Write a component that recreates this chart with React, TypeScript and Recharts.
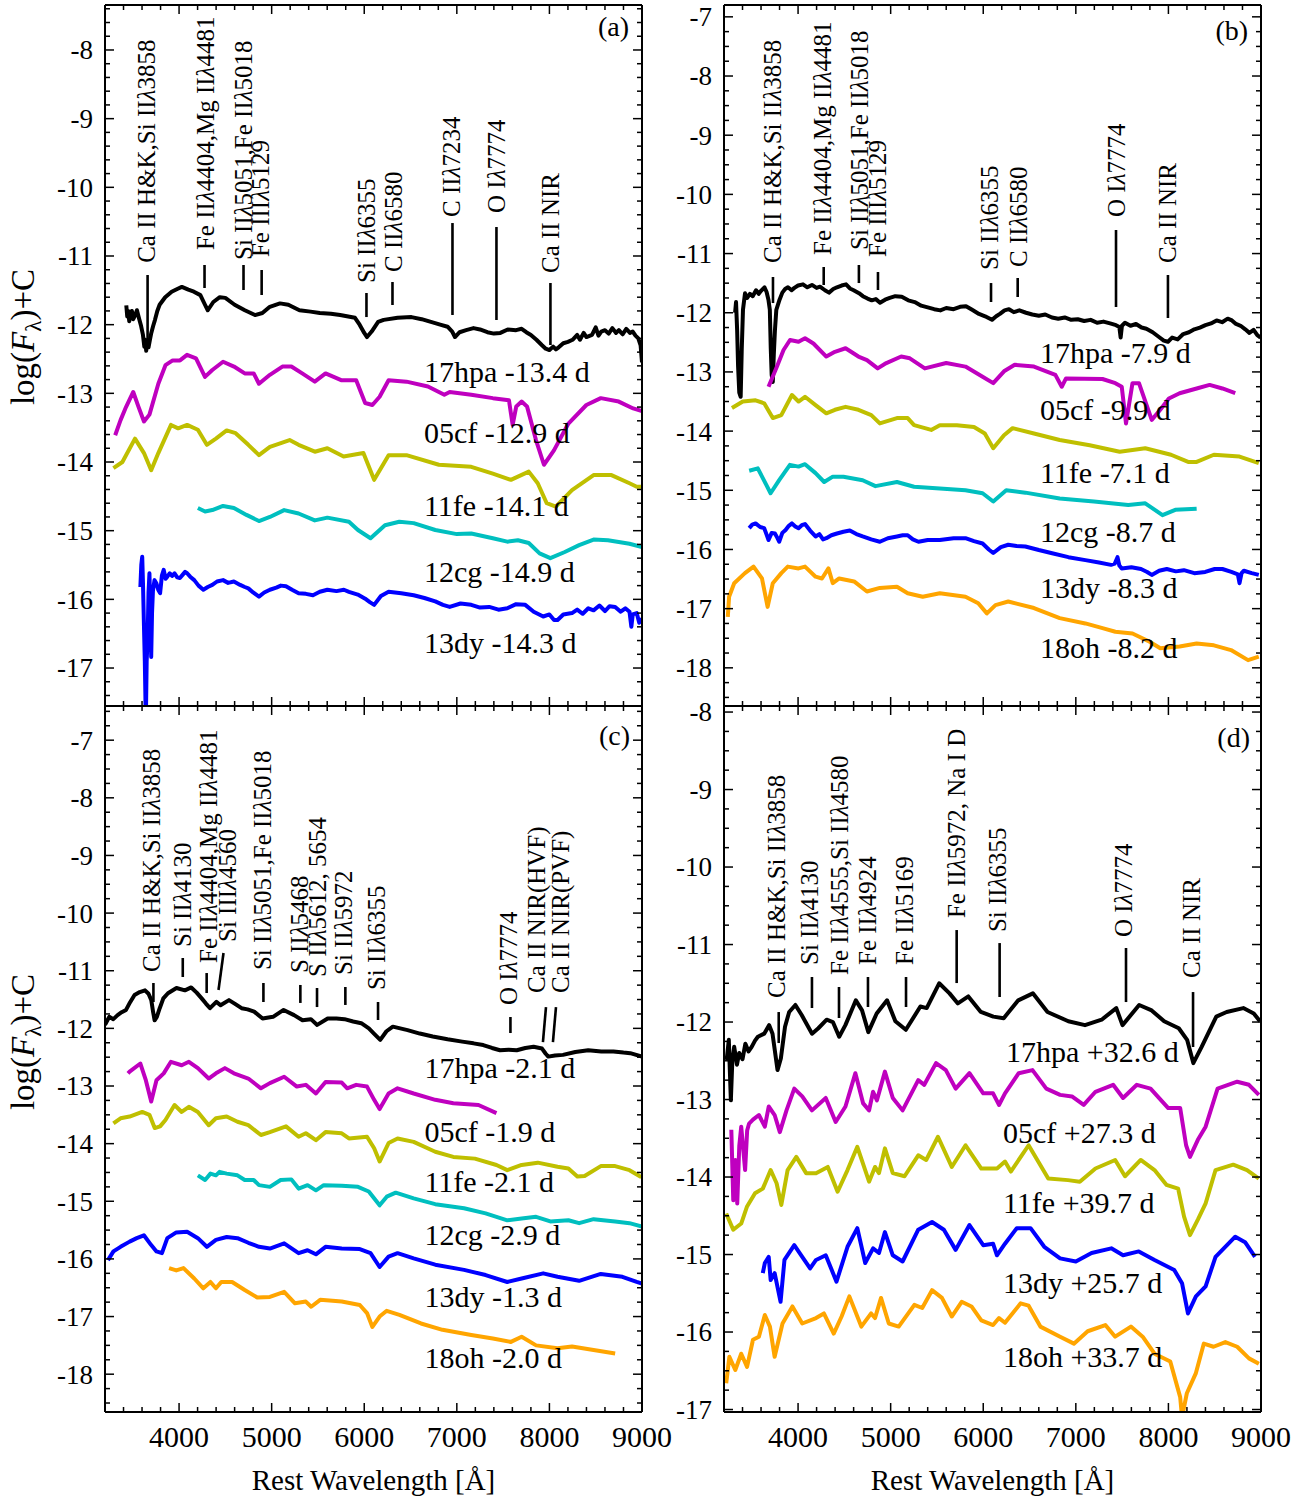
import React from 'react';
import { LineChart, Line, XAxis, YAxis, ReferenceLine, ReferenceDot } from 'recharts';

const FONT = '"Liberation Serif", "Times New Roman", Times, serif';
const W = 1315;
const H = 1502;

// ---------- axes ----------
const X_DOMAIN: [number, number] = [3200, 9000];
const X_MAJOR = [4000, 5000, 6000, 7000, 8000, 9000];
const X_MINOR_STEP = 200;
const Y_DOMAIN_A: [number, number] = [-17.553, -7.345];
const Y_DOMAIN_B: [number, number] = [-18.645, -6.8];
const Y_DOMAIN_C: [number, number] = [-18.656, -6.407];
const Y_DOMAIN_D: [number, number] = [-17.032, -7.922];

// ---------- spectra: [wavelength, log flux + C, ...] ----------
const A_17HPA = [3430,-11.72,3440,-11.88,3450,-11.8,3462,-11.95,3475,-11.86,3490,-11.8,3505,-11.92,3520,-11.88,3545,-11.79,3570,-11.92,3590,-12.02,3610,-12.15,3625,-12.32,3635,-12.22,3645,-12.38,3655,-12.26,3670,-12.33,3685,-12.22,3700,-12.12,3720,-12.02,3740,-11.93,3765,-11.8,3790,-11.71,3850,-11.6,3920,-11.52,3980,-11.48,4030,-11.45,4100,-11.49,4160,-11.52,4230,-11.57,4280,-11.71,4310,-11.79,4370,-11.67,4440,-11.6,4500,-11.61,4600,-11.71,4710,-11.79,4820,-11.86,4900,-11.83,4980,-11.74,5090,-11.69,5180,-11.71,5300,-11.79,5420,-11.81,5520,-11.83,5640,-11.84,5740,-11.86,5900,-11.9,5950,-12.0,6000,-12.12,6030,-12.18,6080,-12.1,6150,-11.96,6210,-11.93,6360,-11.9,6510,-11.89,6620,-11.92,6720,-11.96,6820,-12.0,6900,-12.03,6950,-12.1,6980,-12.18,7030,-12.11,7100,-12.08,7180,-12.05,7250,-12.07,7330,-12.11,7400,-12.13,7470,-12.12,7550,-12.07,7640,-12.08,7700,-12.06,7750,-12.11,7800,-12.15,7860,-12.22,7920,-12.3,7960,-12.35,8000,-12.37,8040,-12.32,8070,-12.36,8100,-12.33,8150,-12.27,8200,-12.25,8250,-12.22,8300,-12.15,8330,-12.22,8370,-12.12,8400,-12.18,8460,-12.15,8500,-12.04,8530,-12.16,8560,-12.1,8600,-12.08,8640,-12.13,8680,-12.05,8720,-12.12,8750,-12.08,8790,-12.14,8830,-12.06,8870,-12.12,8900,-12.1,8930,-12.16,8960,-12.2,8985,-12.3,9000,-12.55];
const A_05CF = [3310,-13.61,3368,-13.39,3427,-13.2,3505,-12.98,3563,-13.2,3621,-13.41,3680,-13.31,3776,-12.86,3853,-12.59,3931,-12.52,4010,-12.52,4086,-12.44,4183,-12.49,4280,-12.76,4359,-12.66,4475,-12.54,4593,-12.61,4709,-12.71,4806,-12.71,4863,-12.86,4981,-12.73,5116,-12.61,5213,-12.61,5330,-12.71,5466,-12.83,5582,-12.71,5757,-12.81,5913,-12.81,6010,-13.14,6088,-13.17,6166,-13.05,6263,-12.81,6456,-12.83,6688,-12.9,6865,-13.02,6923,-12.98,7156,-13.02,7389,-13.07,7563,-13.1,7603,-13.46,7642,-13.19,7700,-13.12,7758,-13.19,7855,-13.68,7941,-14.04,8049,-13.83,8205,-13.44,8399,-13.17,8555,-13.07,8749,-13.12,8905,-13.22,9000,-13.26];
const A_11FE = [3291,-14.09,3388,-14.0,3524,-13.66,3621,-13.87,3699,-14.12,3776,-13.87,3913,-13.46,3990,-13.51,4087,-13.46,4203,-13.53,4300,-13.75,4398,-13.66,4514,-13.54,4611,-13.58,4748,-13.75,4863,-13.9,4981,-13.78,5194,-13.68,5291,-13.75,5466,-13.85,5602,-13.8,5777,-13.92,5991,-13.87,6107,-14.26,6263,-13.9,6456,-13.9,6806,-14.04,7156,-14.07,7389,-14.17,7584,-14.26,7777,-14.14,7874,-14.31,7971,-14.6,8069,-14.65,8244,-14.41,8477,-14.19,8670,-14.19,8865,-14.31,8943,-14.36,9000,-14.36];
const A_12CG = [4203,-14.67,4281,-14.72,4359,-14.7,4475,-14.64,4592,-14.67,4728,-14.77,4863,-14.86,4981,-14.8,5135,-14.7,5291,-14.75,5466,-14.85,5602,-14.81,5835,-14.87,5932,-14.99,6068,-15.11,6224,-14.92,6379,-14.87,6534,-14.89,6767,-14.99,7000,-15.05,7156,-15.04,7389,-15.11,7545,-15.16,7660,-15.14,7777,-15.18,7894,-15.33,8010,-15.4,8166,-15.31,8321,-15.21,8477,-15.13,8632,-15.14,8865,-15.19,9000,-15.24];
const A_13DY = [3582,-15.82,3592,-15.5,3602,-15.38,3610,-15.75,3621,-16.4,3630,-16.9,3641,-17.8,3650,-16.9,3660,-16.59,3670,-15.9,3680,-15.62,3690,-16.2,3699,-16.84,3708,-16.2,3718,-15.87,3735,-15.72,3756,-15.77,3775,-15.86,3795,-15.91,3815,-15.65,3834,-15.57,3855,-15.7,3873,-15.67,3900,-15.62,3925,-15.66,3951,-15.62,3980,-15.68,4009,-15.69,4040,-15.64,4065,-15.6,4087,-15.62,4120,-15.67,4164,-15.72,4210,-15.8,4262,-15.86,4310,-15.82,4359,-15.79,4410,-15.74,4475,-15.72,4530,-15.76,4592,-15.74,4660,-15.79,4710,-15.82,4748,-15.84,4800,-15.9,4863,-15.96,4920,-15.9,4981,-15.86,5050,-15.83,5100,-15.8,5155,-15.81,5220,-15.86,5291,-15.91,5370,-15.92,5446,-15.94,5520,-15.89,5602,-15.86,5700,-15.88,5780,-15.86,5835,-15.89,5930,-15.93,6010,-15.99,6060,-16.04,6107,-16.08,6180,-15.95,6263,-15.89,6400,-15.91,6534,-15.94,6650,-15.98,6767,-16.03,6850,-16.08,6923,-16.11,7040,-16.06,7156,-16.08,7250,-16.12,7350,-16.11,7450,-16.15,7545,-16.13,7640,-16.07,7739,-16.08,7830,-16.18,7933,-16.25,8000,-16.22,8050,-16.3,8088,-16.3,8150,-16.22,8244,-16.2,8300,-16.15,8360,-16.21,8420,-16.13,8477,-16.16,8540,-16.09,8600,-16.17,8650,-16.1,8710,-16.11,8770,-16.18,8820,-16.13,8865,-16.18,8885,-16.4,8900,-16.22,8943,-16.2,8970,-16.34,9000,-16.28];

const B_17HPA = [3320,-12.0,3330,-11.82,3342,-12.3,3352,-12.9,3365,-13.35,3380,-13.42,3392,-12.6,3405,-11.95,3427,-11.67,3450,-11.75,3480,-11.68,3510,-11.72,3546,-11.62,3575,-11.68,3600,-11.63,3637,-11.57,3660,-11.65,3680,-11.78,3695,-11.95,3705,-12.6,3715,-13.05,3727,-13.17,3738,-12.7,3750,-12.3,3765,-11.95,3800,-11.78,3830,-11.66,3860,-11.6,3891,-11.57,3930,-11.62,3960,-11.58,4000,-11.54,4053,-11.52,4100,-11.57,4150,-11.53,4200,-11.58,4237,-11.56,4290,-11.62,4334,-11.66,4380,-11.6,4420,-11.57,4470,-11.54,4518,-11.52,4560,-11.59,4600,-11.62,4658,-11.67,4700,-11.72,4750,-11.76,4796,-11.79,4840,-11.77,4885,-11.83,4940,-11.78,4990,-11.75,5050,-11.72,5120,-11.73,5190,-11.79,5260,-11.82,5330,-11.88,5400,-11.91,5470,-11.94,5537,-11.96,5600,-11.92,5680,-11.94,5750,-11.9,5814,-11.89,5880,-11.95,5954,-12.02,6020,-12.06,6094,-12.12,6140,-12.06,6180,-12.02,6230,-11.96,6278,-11.94,6330,-11.99,6390,-11.96,6462,-12.0,6530,-12.03,6600,-12.05,6670,-12.03,6742,-12.08,6810,-12.1,6880,-12.08,6950,-12.12,7021,-12.11,7090,-12.14,7160,-12.12,7230,-12.17,7299,-12.15,7370,-12.18,7434,-12.21,7470,-12.24,7484,-12.42,7498,-12.22,7531,-12.17,7590,-12.22,7650,-12.19,7710,-12.25,7762,-12.27,7830,-12.33,7898,-12.41,7950,-12.47,7995,-12.49,8040,-12.42,8100,-12.45,8160,-12.36,8222,-12.33,8280,-12.28,8340,-12.25,8400,-12.21,8460,-12.18,8520,-12.13,8580,-12.16,8640,-12.1,8686,-12.13,8730,-12.19,8780,-12.22,8830,-12.28,8875,-12.34,8920,-12.29,8960,-12.38,8995,-12.42];
const B_05CF = [3681,-13.25,3772,-12.91,3843,-12.63,3913,-12.46,4005,-12.49,4075,-12.43,4166,-12.52,4305,-12.74,4398,-12.66,4513,-12.6,4652,-12.74,4744,-12.8,4860,-12.94,4953,-12.85,5114,-12.74,5207,-12.77,5369,-12.94,5600,-12.85,5808,-12.91,5993,-13.08,6108,-13.19,6224,-12.99,6340,-12.88,6548,-12.91,6779,-13.05,6848,-13.25,6894,-13.11,7288,-13.12,7427,-13.19,7496,-13.25,7542,-13.87,7612,-13.19,7682,-13.19,7820,-13.81,7912,-13.64,8005,-13.45,8121,-13.36,8305,-13.28,8445,-13.22,8583,-13.28,8722,-13.36];
const B_11FE = [3286,-13.61,3403,-13.5,3541,-13.48,3634,-13.53,3727,-13.78,3819,-13.73,3934,-13.39,4005,-13.5,4075,-13.42,4189,-13.56,4305,-13.7,4398,-13.64,4513,-13.59,4652,-13.64,4791,-13.73,4883,-13.87,5068,-13.78,5184,-13.78,5253,-13.9,5438,-13.98,5531,-13.9,5715,-13.9,5900,-13.93,6017,-14.04,6108,-14.29,6224,-14.07,6317,-13.95,6548,-14.04,6826,-14.15,7150,-14.24,7474,-14.35,7750,-14.29,8028,-14.4,8213,-14.52,8305,-14.52,8491,-14.4,8768,-14.43,8976,-14.54];
const B_12CG = [3472,-14.67,3565,-14.63,3657,-14.91,3703,-15.05,3796,-14.83,3912,-14.57,4005,-14.6,4075,-14.56,4189,-14.71,4282,-14.86,4375,-14.77,4490,-14.77,4698,-14.83,4836,-14.93,5068,-14.86,5253,-14.94,5531,-14.97,5808,-15.0,5993,-15.05,6108,-15.19,6248,-15.0,6455,-15.04,6826,-15.14,7196,-15.19,7566,-15.25,7750,-15.22,7936,-15.42,8074,-15.33,8305,-15.31];
const B_13DY = [3472,-15.64,3505,-15.58,3541,-15.56,3590,-15.62,3634,-15.64,3660,-15.75,3681,-15.84,3715,-15.72,3750,-15.73,3775,-15.8,3796,-15.87,3830,-15.72,3865,-15.67,3900,-15.6,3934,-15.56,3970,-15.61,4005,-15.64,4040,-15.59,4075,-15.57,4130,-15.68,4189,-15.78,4230,-15.74,4270,-15.83,4305,-15.81,4360,-15.76,4420,-15.73,4490,-15.7,4559,-15.68,4630,-15.74,4698,-15.78,4790,-15.83,4883,-15.87,4970,-15.81,5068,-15.78,5130,-15.76,5184,-15.76,5240,-15.83,5300,-15.87,5400,-15.84,5531,-15.84,5680,-15.81,5808,-15.81,5900,-15.86,5993,-15.9,6060,-16.0,6108,-16.06,6190,-15.96,6270,-15.92,6360,-15.94,6455,-15.95,6600,-16.01,6733,-16.06,6920,-16.13,7103,-16.18,7250,-16.22,7380,-16.26,7420,-16.24,7450,-16.13,7470,-16.27,7496,-16.32,7600,-16.3,7704,-16.33,7770,-16.38,7820,-16.43,7900,-16.36,7982,-16.33,8080,-16.37,8167,-16.35,8280,-16.4,8398,-16.38,8500,-16.33,8583,-16.33,8680,-16.38,8750,-16.42,8768,-16.57,8790,-16.4,8815,-16.36,8900,-16.4,8976,-16.43];
const B_18OH = [3241,-17.14,3255,-16.8,3310,-16.57,3426,-16.4,3519,-16.29,3610,-16.49,3671,-16.97,3727,-16.57,3819,-16.4,3889,-16.29,4005,-16.32,4075,-16.29,4189,-16.46,4258,-16.49,4328,-16.32,4375,-16.57,4444,-16.49,4605,-16.54,4744,-16.71,4883,-16.65,5068,-16.63,5184,-16.74,5346,-16.8,5531,-16.74,5808,-16.8,5946,-16.91,6039,-17.08,6132,-16.94,6270,-16.88,6548,-16.99,6826,-17.16,7103,-17.25,7288,-17.33,7427,-17.39,7612,-17.42,7797,-17.56,7912,-17.67,8121,-17.64,8305,-17.59,8491,-17.62,8676,-17.7,8860,-17.87,8976,-17.81];

const C_17HPA = [3200,-11.94,3246,-11.8,3290,-11.84,3336,-11.77,3380,-11.72,3427,-11.68,3470,-11.55,3519,-11.42,3575,-11.37,3632,-11.34,3670,-11.4,3700,-11.51,3720,-11.72,3736,-11.86,3760,-11.8,3791,-11.65,3830,-11.48,3880,-11.39,3972,-11.3,4063,-11.34,4131,-11.29,4190,-11.38,4244,-11.48,4290,-11.57,4334,-11.65,4403,-11.54,4448,-11.6,4539,-11.51,4600,-11.57,4675,-11.65,4740,-11.67,4811,-11.71,4902,-11.83,5015,-11.8,5129,-11.68,5242,-11.77,5333,-11.86,5424,-11.84,5492,-11.94,5605,-11.83,5700,-11.83,5787,-11.84,5880,-11.88,5968,-11.91,6050,-12.0,6105,-12.09,6173,-12.2,6240,-12.05,6309,-11.97,6468,-12.03,6600,-12.09,6740,-12.14,6900,-12.19,7058,-12.23,7180,-12.26,7285,-12.29,7380,-12.34,7466,-12.38,7560,-12.37,7647,-12.38,7740,-12.34,7829,-12.32,7920,-12.35,7960,-12.44,7988,-12.49,8060,-12.47,8146,-12.46,8280,-12.41,8419,-12.38,8560,-12.4,8691,-12.4,8800,-12.42,8873,-12.43,9000,-12.49];
const C_05CF = [3448,-12.78,3466,-12.75,3582,-12.61,3641,-12.9,3699,-13.27,3756,-12.9,3834,-12.78,3912,-12.58,4028,-12.64,4106,-12.58,4203,-12.69,4320,-12.87,4398,-12.78,4495,-12.69,4592,-12.78,4748,-12.87,4884,-13.04,4981,-12.95,5135,-12.84,5272,-13.01,5369,-12.98,5478,-13.13,5582,-12.93,5757,-12.94,5816,-13.04,5913,-12.98,6030,-13.01,6107,-13.24,6166,-13.4,6263,-13.13,6360,-13.04,6534,-13.13,6767,-13.24,6962,-13.3,7234,-13.33,7428,-13.47];
const C_11FE = [3291,-13.65,3368,-13.56,3466,-13.53,3602,-13.45,3680,-13.5,3737,-13.73,3795,-13.7,3853,-13.59,3951,-13.33,4028,-13.45,4106,-13.36,4203,-13.45,4320,-13.68,4398,-13.56,4514,-13.53,4631,-13.62,4748,-13.68,4884,-13.85,4981,-13.8,5155,-13.7,5291,-13.88,5369,-13.82,5478,-13.94,5582,-13.8,5757,-13.82,5835,-13.91,6030,-13.88,6107,-14.08,6166,-14.31,6263,-13.99,6360,-13.91,6534,-13.97,6767,-14.14,6962,-14.23,7195,-14.26,7428,-14.37,7545,-14.46,7700,-14.37,7874,-14.33,8088,-14.4,8205,-14.43,8302,-14.57,8380,-14.56,8555,-14.39,8710,-14.39,8865,-14.46,8981,-14.57,9000,-14.57];
const C_12CG = [4203,-14.55,4281,-14.63,4339,-14.52,4398,-14.55,4437,-14.49,4514,-14.52,4631,-14.55,4709,-14.63,4806,-14.63,4863,-14.72,4981,-14.75,5097,-14.63,5213,-14.62,5291,-14.78,5388,-14.72,5478,-14.81,5563,-14.72,5757,-14.73,5932,-14.75,6049,-14.83,6166,-15.07,6243,-14.92,6340,-14.85,6534,-14.95,6767,-15.05,7078,-15.12,7311,-15.21,7545,-15.33,7700,-15.3,7856,-15.27,8010,-15.35,8205,-15.33,8321,-15.38,8477,-15.31,8710,-15.35,8865,-15.38,9000,-15.44];
const C_13DY = [3232,-16.02,3291,-15.87,3368,-15.79,3466,-15.7,3543,-15.64,3620,-15.59,3699,-15.76,3756,-15.87,3815,-15.9,3873,-15.64,3970,-15.54,4087,-15.53,4203,-15.64,4300,-15.79,4398,-15.67,4514,-15.62,4631,-15.64,4748,-15.72,4863,-15.79,4981,-15.82,5135,-15.73,5291,-15.9,5388,-15.85,5478,-15.92,5582,-15.79,5757,-15.82,5952,-15.83,6068,-15.9,6166,-16.14,6263,-15.96,6360,-15.9,6534,-15.99,6767,-16.1,7078,-16.19,7311,-16.28,7545,-16.4,7700,-16.34,7933,-16.25,8088,-16.31,8321,-16.38,8555,-16.26,8788,-16.31,8943,-16.4,9000,-16.43];
const C_18OH = [3892,-16.16,3970,-16.2,4048,-16.16,4164,-16.34,4262,-16.51,4339,-16.4,4398,-16.51,4456,-16.4,4573,-16.4,4709,-16.54,4845,-16.67,4981,-16.66,5135,-16.57,5252,-16.77,5369,-16.74,5427,-16.83,5524,-16.71,5757,-16.74,5952,-16.8,6030,-16.94,6088,-17.18,6166,-17.0,6243,-16.9,6380,-16.97,6613,-17.12,6845,-17.23,7156,-17.32,7389,-17.38,7584,-17.44,7700,-17.35,7856,-17.5,8088,-17.55,8244,-17.52,8477,-17.58,8710,-17.64];

const D_17HPA = [3229,-12.49,3252,-12.23,3274,-13.01,3290,-12.5,3310,-12.32,3340,-12.55,3364,-12.4,3400,-12.48,3431,-12.28,3465,-12.38,3499,-12.32,3535,-12.24,3566,-12.19,3634,-12.15,3688,-12.04,3724,-12.15,3778,-12.62,3814,-12.47,3859,-12.06,3904,-11.87,3971,-11.78,4039,-11.91,4151,-12.15,4219,-12.08,4309,-11.97,4376,-12.0,4444,-12.19,4511,-12.04,4624,-11.72,4691,-11.85,4759,-12.13,4849,-11.89,4961,-11.72,5051,-11.99,5164,-12.1,5321,-11.8,5389,-11.82,5524,-11.5,5636,-11.63,5726,-11.76,5839,-11.67,5974,-11.87,6109,-11.93,6221,-11.95,6378,-11.72,6536,-11.63,6694,-11.87,6919,-11.99,7099,-12.04,7279,-11.97,7437,-11.82,7504,-12.04,7684,-11.78,7819,-11.85,7954,-11.99,8112,-12.08,8202,-12.23,8269,-12.53,8359,-12.32,8517,-11.93,8629,-11.87,8809,-11.82,8922,-11.89,8989,-11.99];
const D_05CF = [3279,-13.39,3300,-14.3,3322,-13.78,3343,-14.34,3365,-13.6,3386,-13.35,3428,-13.91,3450,-13.4,3471,-13.31,3513,-13.26,3577,-13.2,3641,-13.35,3683,-13.09,3747,-13.2,3803,-13.42,3875,-13.14,3959,-12.86,4045,-12.96,4150,-13.14,4299,-12.98,4406,-13.29,4512,-13.09,4619,-12.66,4703,-13.05,4767,-13.14,4810,-12.9,4852,-13.01,4938,-12.64,5023,-12.98,5129,-13.14,5298,-12.75,5363,-12.81,5490,-12.53,5596,-12.62,5702,-12.86,5851,-12.66,6000,-12.92,6106,-12.92,6170,-13.07,6235,-12.92,6383,-12.66,6532,-12.62,6681,-12.86,6830,-12.94,6958,-12.96,7085,-13.07,7212,-12.9,7403,-12.81,7510,-12.98,7659,-12.81,7807,-12.86,7998,-13.11,8127,-13.11,8191,-13.59,8233,-13.74,8318,-13.52,8402,-13.35,8531,-12.86,8743,-12.77,8870,-12.81,8977,-12.94];
const D_11FE = [3224,-14.47,3300,-14.68,3386,-14.6,3449,-14.38,3535,-14.21,3619,-14.15,3704,-13.91,3768,-14.08,3819,-14.36,3887,-13.91,3981,-13.74,4087,-13.95,4194,-13.95,4321,-13.87,4427,-14.19,4534,-13.91,4640,-13.61,4767,-14.06,4831,-13.87,4874,-13.95,4938,-13.63,5023,-13.95,5150,-13.99,5298,-13.72,5384,-13.78,5511,-13.48,5660,-13.87,5809,-13.59,5979,-13.89,6149,-13.89,6235,-13.8,6298,-13.93,6490,-13.59,6702,-14.02,6915,-14.04,7043,-14.06,7212,-13.89,7425,-13.78,7531,-13.99,7701,-13.78,7850,-13.91,7978,-14.1,8105,-14.15,8169,-14.51,8233,-14.75,8318,-14.55,8402,-14.34,8509,-13.91,8700,-13.84,8849,-13.91,8977,-14.02];
const D_13DY = [3619,-15.24,3641,-15.11,3683,-15.03,3704,-15.33,3747,-15.24,3811,-15.61,3853,-15.07,3959,-14.88,4045,-15.03,4130,-15.18,4194,-15.07,4299,-15.01,4415,-15.35,4534,-14.9,4640,-14.66,4725,-15.11,4810,-14.92,4874,-14.98,4938,-14.71,5023,-15.01,5129,-15.09,5298,-14.68,5447,-14.58,5575,-14.68,5702,-14.94,5851,-14.62,6000,-14.88,6106,-14.86,6148,-15.01,6235,-14.86,6362,-14.66,6511,-14.66,6659,-14.9,6830,-15.05,7000,-15.09,7170,-14.98,7383,-14.92,7510,-15.01,7680,-14.96,7850,-15.07,8063,-15.2,8147,-15.37,8211,-15.76,8297,-15.54,8402,-15.41,8509,-15.03,8722,-14.77,8828,-14.84,8935,-15.03];
const D_18OH = [3224,-16.66,3258,-16.32,3322,-16.49,3386,-16.28,3449,-16.45,3513,-16.1,3577,-16.06,3641,-15.78,3696,-15.93,3747,-16.32,3832,-15.89,3939,-15.67,4045,-15.89,4194,-15.82,4279,-15.76,4385,-16.02,4470,-15.8,4554,-15.54,4683,-15.93,4789,-15.76,4831,-15.82,4896,-15.56,4980,-15.89,5087,-15.93,5256,-15.65,5341,-15.69,5447,-15.46,5554,-15.56,5660,-15.8,5767,-15.61,5873,-15.67,5979,-15.85,6106,-15.91,6170,-15.82,6235,-15.88,6404,-15.63,6490,-15.66,6617,-15.93,6830,-16.06,6979,-16.15,7128,-15.99,7319,-15.91,7425,-16.06,7595,-15.93,7722,-16.06,7850,-16.28,8020,-16.38,8127,-16.84,8147,-17.1,8199,-16.79,8297,-16.53,8382,-16.15,8488,-16.19,8615,-16.13,8743,-16.19,8870,-16.34,8977,-16.41];

// ---------- spectrum names ----------
const NAMES_A = ['17hpa -13.4 d', '05cf -12.9 d', '11fe -14.1 d', '12cg -14.9 d', '13dy -14.3 d'];
const NAMES_B = ['17hpa -7.9 d', '05cf -9.9 d', '11fe -7.1 d', '12cg -8.7 d', '13dy -8.3 d', '18oh -8.2 d'];
const NAMES_C = ['17hpa -2.1 d', '05cf -1.9 d', '11fe -2.1 d', '12cg -2.9 d', '13dy -1.3 d', '18oh -2.0 d'];
const NAMES_D = ['17hpa +32.6 d', '05cf +27.3 d', '11fe +39.7 d', '13dy +25.7 d', '18oh +33.7 d'];
// label anchor (wavelength, value)
const NAME_POS_A = [[6645, -12.835], [6645, -13.72], [6645, -14.79], [6645, -15.75], [6645, -16.78]];
const NAME_POS_B = [[6613, -12.85], [6613, -13.81], [6613, -14.88], [6613, -15.87], [6613, -16.82], [6613, -17.83]];
const NAME_POS_C = [[6650, -12.86], [6650, -13.97], [6650, -14.84], [6650, -15.76], [6650, -16.83], [6650, -17.89]];
const NAME_POS_D = [[6246, -12.52], [6213, -13.56], [6213, -14.47], [6213, -15.5], [6213, -16.45]];

// ---------- line identifications: [text, w1, v1, w2, v2, textW, textV] ----------
type Ann = [string, number, number, number, number, number, number];
const ANN_A: Ann[] = [
  ['Ca II H&K,Si IIλ3858', 3660, -11.277, 3660, -12.296, 3643, -11.1],
  ['Fe IIλ4404,Mg IIλ4481', 4275, -11.131, 4275, -11.466, 4280, -10.913],
  ['Si IIλ5051,Fe IIλ5018', 4696, -11.131, 4696, -11.495, 4690, -11.058],
  ['Fe IIIλ5129', 4892, -11.204, 4892, -11.568, 4874, -11.015],
  ['Si IIλ6355', 6024, -11.539, 6024, -11.889, 6019, -11.393],
  ['C IIλ6580', 6305, -11.379, 6305, -11.714, 6310, -11.233],
  ['C IIλ7234', 6953, -10.52, 6953, -11.859, 6937, -10.432],
  ['O Iλ7774', 7428, -10.578, 7428, -11.932, 7423, -10.374],
  ['Ca II NIR', 8011, -11.393, 8011, -12.296, 8006, -11.248],
];
const ANN_B: Ann[] = [
  ['Ca II H&K,Si IIλ3858', 3729, -11.396, 3729, -11.836, 3718, -11.16],
  ['Fe IIλ4404,Mg IIλ4481', 4277, -11.227, 4277, -11.531, 4265, -11.024],
  ['Si IIλ5051,Fe IIλ5018', 4657, -11.193, 4657, -11.498, 4658, -10.94],
  ['Fe IIIλ5129', 4863, -11.312, 4863, -11.616, 4852, -11.058],
  ['Si IIλ6355', 6084, -11.498, 6084, -11.819, 6062, -11.278],
  ['C IIλ6580', 6372, -11.413, 6372, -11.734, 6375, -11.227],
  ['O Iλ7774', 7434, -10.602, 7434, -11.903, 7434, -10.382],
  ['Ca II NIR', 7995, -11.362, 7995, -12.089, 7984, -11.16],
];
const ANN_C: Ann[] = [
  ['Ca II H&K,Si IIλ3858', 3723, -11.213, 3723, -11.543, 3697, -11.022],
  ['Si IIλ4130', 4040, -10.779, 4040, -11.109, 4032, -10.588],
  ['Fe IIλ4404,Mg IIλ4481', 4298, -11.04, 4298, -11.387, 4312, -10.866],
  ['Si IIIλ4560', 4480, -10.692, 4426, -11.335, 4518, -10.501],
  ['Si IIλ5051,Fe IIλ5018', 4911, -11.213, 4911, -11.543, 4901, -10.988],
  ['S IIλ5468', 5310, -11.247, 5310, -11.559, 5301, -11.04],
  ['S IIλ5612, 5654', 5490, -11.3, 5490, -11.63, 5490, -11.109],
  ['Si IIλ5972', 5796, -11.282, 5796, -11.594, 5776, -11.074],
  ['Si IIλ6355', 6149, -11.543, 6149, -11.855, 6127, -11.335],
  ['O Iλ7774', 7579, -11.803, 7579, -12.081, 7558, -11.594],
  ['Ca II NIR(HVF)', 7963, -11.63, 7930, -12.237, 7861, -11.387],
  ['Ca II NIR(PVF)', 8071, -11.63, 8038, -12.237, 8119, -11.387],
];
const ANN_D: Ann[] = [
  ['Ca II H&K,Si IIλ3858', 3791, -11.871, 3791, -12.271, 3769, -11.69],
  ['Si IIλ4130', 4150, -11.419, 4150, -11.819, 4118, -11.264],
  ['Fe IIλ4555,Si IIλ4580', 4442, -11.548, 4442, -11.948, 4442, -11.393],
  ['Fe IIλ4924', 4755, -11.419, 4755, -11.806, 4744, -11.264],
  ['Fe IIλ5169', 5166, -11.419, 5166, -11.806, 5144, -11.264],
  ['Fe IIλ5972, Na I D', 5713, -10.813, 5713, -11.497, 5706, -10.658],
  ['Si IIλ6355', 6177, -10.981, 6177, -11.677, 6154, -10.839],
  ['O Iλ7774', 7542, -11.045, 7542, -11.742, 7509, -10.903],
  ['Ca II NIR', 8266, -11.613, 8266, -12.322, 8249, -11.432],
];

const LETTERS = ['(a)', '(b)', '(c)', '(d)'];
const LETTER_POS = [[8860, -7.8], [8860, -7.39], [8870, -7.084], [8881, -8.45]];

// ---------- styling ----------
const COLORS = { k: '#000000', m: '#bf00bf', y: '#bfbf00', c: '#00bfbf', b: '#0000ff', o: '#ffa500' };

type Pt = { w: number; v: number };
const toPts = (flat: number[]): Pt[] => {
  const out: Pt[] = [];
  for (let i = 0; i + 1 < flat.length; i += 2) out.push({ w: flat[i], v: flat[i + 1] });
  return out;
};

const makeTicks = (dom: [number, number], step: number) => {
  const out: number[] = [];
  const k0 = Math.ceil(dom[0] / step - 1e-9);
  const k1 = Math.floor(dom[1] / step + 1e-9);
  for (let k = k0; k <= k1; k++) out.push(Math.round(k * step * 1000) / 1000);
  return out;
};

const withLambda = (s: string) => {
  const parts = s.split('λ');
  const out: React.ReactNode[] = [];
  parts.forEach((p, i) => {
    if (i > 0) out.push(<tspan key={'l' + i} fontStyle="italic">λ</tspan>);
    if (p) out.push(<tspan key={'t' + i}>{p}</tspan>);
  });
  return out;
};

const isMajorY = (v: number) => Math.abs(v - Math.round(v)) < 1e-6;

type PanelProps = {
  box: [number, number, number, number];
  yDomain: [number, number];
  yStep: number;
  series: { data: number[]; color: string }[];
  names: string[];
  namePos: number[][];
  anns: Ann[];
  letter: string;
  letterPos: number[];
  xLabels: boolean;
};

const AX = 1; // axis thickness reserved by each axis (must be > 0 to render)

function Panel(props: PanelProps) {
  const { box, yDomain, yStep, series, names, namePos, anns, letter, letterPos, xLabels } = props;
  const [L, R, T, B] = box;
  const xTicks = makeTicks(X_DOMAIN, X_MINOR_STEP);
  const yTicks = makeTicks(yDomain, yStep);
  const axisLine = { stroke: '#000', strokeWidth: 2 };

  const bottomTick = (p: any) => {
    const v = p.payload.value;
    const major = X_MAJOR.includes(v);
    return (
      <g>
        <line x1={p.x} x2={p.x} y1={p.y} y2={p.y - (major ? 9 : 5)} stroke="#000" strokeWidth={1.5} />
        {xLabels && major ? (
          <text x={p.x} y={p.y + 35} textAnchor="middle" fontSize={30} fontFamily={FONT} fill="#000">{v}</text>
        ) : null}
      </g>
    );
  };
  const topTick = (p: any) => {
    const major = X_MAJOR.includes(p.payload.value);
    return <line x1={p.x} x2={p.x} y1={p.y} y2={p.y + (major ? 9 : 5)} stroke="#000" strokeWidth={1.5} />;
  };
  const leftTick = (p: any) => {
    const v = p.payload.value;
    const major = isMajorY(v);
    return (
      <g>
        <line x1={p.x} x2={p.x + (major ? 9 : 5)} y1={p.y} y2={p.y} stroke="#000" strokeWidth={1.5} />
        {major ? (
          <text x={p.x - 12} y={p.y} dy="0.35em" textAnchor="end" fontSize={27} fontFamily={FONT} fill="#000">{Math.round(v)}</text>
        ) : null}
      </g>
    );
  };
  const rightTick = (p: any) => {
    const major = isMajorY(p.payload.value);
    return <line x1={p.x} x2={p.x - (major ? 9 : 5)} y1={p.y} y2={p.y} stroke="#000" strokeWidth={1.5} />;
  };

  return (
    <div style={{ position: 'absolute', left: 0, top: 0 }}>
      <LineChart width={W} height={H} margin={{ top: T - AX, left: L - AX, right: W - R - AX, bottom: H - B - AX }}>
        <XAxis xAxisId="b" orientation="bottom" dataKey="w" type="number" domain={X_DOMAIN} allowDataOverflow
          ticks={xTicks} interval={0} height={AX} tickSize={0} tickMargin={0} tickLine={false} axisLine={axisLine} tick={bottomTick} />
        <XAxis xAxisId="t" orientation="top" dataKey="w" type="number" domain={X_DOMAIN} allowDataOverflow
          ticks={xTicks} interval={0} height={AX} tickSize={0} tickMargin={0} tickLine={false} axisLine={axisLine} tick={topTick} />
        <YAxis yAxisId="l" orientation="left" type="number" domain={yDomain} allowDataOverflow
          ticks={yTicks} interval={0} width={AX} tickSize={0} tickMargin={0} tickLine={false} axisLine={axisLine} tick={leftTick} />
        <YAxis yAxisId="r" orientation="right" type="number" domain={yDomain} allowDataOverflow
          ticks={yTicks} interval={0} width={AX} tickSize={0} tickMargin={0} tickLine={false} axisLine={axisLine} tick={rightTick} />

        {names.map((n, i) => (
          <ReferenceDot key={'n' + i} xAxisId="b" yAxisId="l" x={namePos[i][0]} y={namePos[i][1]} r={0} ifOverflow="visible"
            shape={(p: any) => (
              <text x={p.cx} y={p.cy} fontSize={30} fontFamily={FONT} fill="#000">{n}</text>
            )} />
        ))}

        {series.map((s, i) => (
          <Line key={'s' + i} xAxisId="b" yAxisId="l" data={toPts(s.data)} dataKey="v" stroke={s.color} strokeWidth={4}
            strokeLinejoin="round" dot={false} activeDot={false} isAnimationActive={false} />
        ))}

        {anns.map((a, i) => (
          <ReferenceLine key={'al' + i} xAxisId="b" yAxisId="l" segment={[{ x: a[1], y: a[2] }, { x: a[3], y: a[4] }]}
            stroke="#000" strokeWidth={2.6} ifOverflow="visible" />
        ))}
        {anns.map((a, i) => (
          <ReferenceDot key={'at' + i} xAxisId="b" yAxisId="l" x={a[5]} y={a[6]} r={0} ifOverflow="visible"
            shape={(p: any) => (
              <text x={p.cx} y={p.cy} dy="0.35em" transform={`rotate(-90 ${p.cx} ${p.cy})`} fontSize={25} fontFamily={FONT} fill="#000">
                {withLambda(a[0])}
              </text>
            )} />
        ))}

        <ReferenceDot xAxisId="b" yAxisId="l" x={letterPos[0]} y={letterPos[1]} r={0} ifOverflow="visible"
          shape={(p: any) => (
            <text x={p.cx} y={p.cy} textAnchor="end" fontSize={28} fontFamily={FONT} fill="#000">{letter}</text>
          )} />
      </LineChart>
    </div>
  );
}

export default function App() {
  const seriesA = [
    { data: A_17HPA, color: COLORS.k }, { data: A_05CF, color: COLORS.m }, { data: A_11FE, color: COLORS.y },
    { data: A_12CG, color: COLORS.c }, { data: A_13DY, color: COLORS.b },
  ];
  const seriesB = [
    { data: B_17HPA, color: COLORS.k }, { data: B_05CF, color: COLORS.m }, { data: B_11FE, color: COLORS.y },
    { data: B_12CG, color: COLORS.c }, { data: B_13DY, color: COLORS.b }, { data: B_18OH, color: COLORS.o },
  ];
  const seriesC = [
    { data: C_17HPA, color: COLORS.k }, { data: C_05CF, color: COLORS.m }, { data: C_11FE, color: COLORS.y },
    { data: C_12CG, color: COLORS.c }, { data: C_13DY, color: COLORS.b }, { data: C_18OH, color: COLORS.o },
  ];
  const seriesD = [
    { data: D_17HPA, color: COLORS.k }, { data: D_05CF, color: COLORS.m }, { data: D_11FE, color: COLORS.y },
    { data: D_13DY, color: COLORS.b }, { data: D_18OH, color: COLORS.o },
  ];
  return (
    <div style={{ position: 'absolute', left: 0, top: 0, width: W, height: H, background: '#fff', overflow: 'hidden' }}>
      <svg width={W} height={H} style={{ position: 'absolute', left: 0, top: 0 }}>
        {[337, 1042].map((cy, i) => (
          <text key={'yt' + i} transform={`translate(34,${cy}) rotate(-90)`} textAnchor="middle" fontSize={33} fontFamily={FONT} fill="#000">
            log(<tspan fontStyle="italic">F</tspan><tspan fontSize={23} dy={7}>λ</tspan><tspan dy={-7}>)+C</tspan>
          </text>
        ))}
        {[373.5, 992.5].map((cx, i) => (
          <text key={'xt' + i} x={cx} y={1490} textAnchor="middle" fontSize={29} fontFamily={FONT} fill="#000">Rest Wavelength [Å]</text>
        ))}
      </svg>
      <Panel box={[105, 642, 5, 706]} yDomain={Y_DOMAIN_A} yStep={0.2} series={seriesA} names={NAMES_A} namePos={NAME_POS_A}
        anns={ANN_A} letter={LETTERS[0]} letterPos={LETTER_POS[0]} xLabels={false} />
      <Panel box={[724, 1261, 5, 706]} yDomain={Y_DOMAIN_B} yStep={0.25} series={seriesB} names={NAMES_B} namePos={NAME_POS_B}
        anns={ANN_B} letter={LETTERS[1]} letterPos={LETTER_POS[1]} xLabels={false} />
      <Panel box={[105, 642, 706, 1412]} yDomain={Y_DOMAIN_C} yStep={0.25} series={seriesC} names={NAMES_C} namePos={NAME_POS_C}
        anns={ANN_C} letter={LETTERS[2]} letterPos={LETTER_POS[2]} xLabels={true} />
      <Panel box={[724, 1261, 706, 1412]} yDomain={Y_DOMAIN_D} yStep={0.25} series={seriesD} names={NAMES_D} namePos={NAME_POS_D}
        anns={ANN_D} letter={LETTERS[3]} letterPos={LETTER_POS[3]} xLabels={true} />
    </div>
  );
}
